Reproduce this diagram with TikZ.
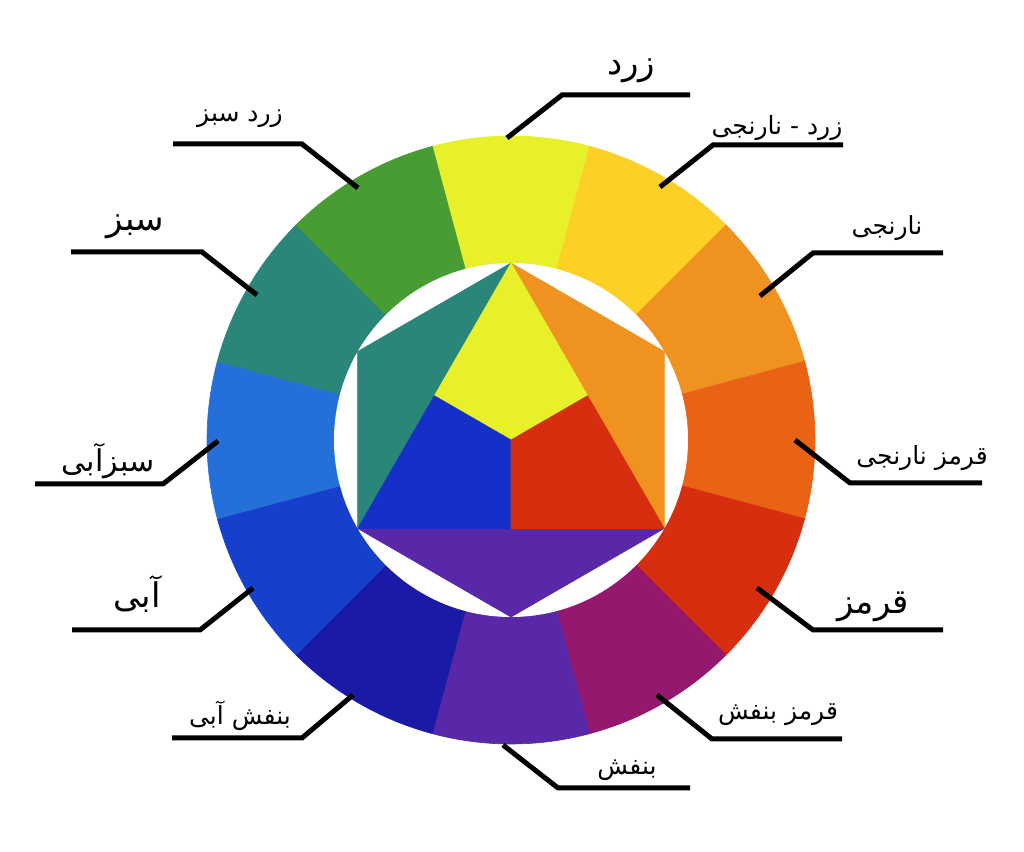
\documentclass[tikz,border=0pt]{standalone}
\usepackage{fontspec}
\newfontfamily\farsi[Script=Arabic]{DejaVu Sans}
\TeXXeTstate=1

\begin{document}
\begin{tikzpicture}[
  x=0.5pt, y=0.5pt,
  % --- shape styles ---
  wedge/.style={fill=#1, draw=#1, line width=0.3pt},
  tri/.style={fill=#1, draw=#1, line width=0.3pt, line join=round},
  lead/.style={line width=2.5pt},
  % --- label styles ---
  lblS/.style={font=\farsi\fontsize{12.5}{14}\selectfont, inner sep=0pt},
  lblM/.style={font=\farsi\fontsize{15}{17}\selectfont, inner sep=0pt},
  lblB/.style={font=\farsi\fontsize{17}{19}\selectfont, inner sep=0pt},
]
  % --- Hue colours ---
  \definecolor{cY}{RGB}{232,240,42}
  \definecolor{cYO}{RGB}{252,208,36}
  \definecolor{cO}{RGB}{240,146,32}
  \definecolor{cRO}{RGB}{234,98,20}
  \definecolor{cR}{RGB}{214,46,14}
  \definecolor{cRV}{RGB}{148,24,110}
  \definecolor{cV}{RGB}{88,40,168}
  \definecolor{cBV}{RGB}{26,26,166}
  \definecolor{cB}{RGB}{22,64,204}
  \definecolor{cBG}{RGB}{36,112,216}
  \definecolor{cG}{RGB}{42,134,120}
  \definecolor{cYG}{RGB}{72,156,52}
  \definecolor{cBin}{RGB}{20,48,200}

  \useasboundingbox (0,0) rectangle (1024,852);
  \fill[white] (0,0) rectangle (1024,852);

  \def\ro{304}  % outer radius of the ring
  \def\ri{177}  % inner radius (white disc)

  \begin{scope}[shift={(511,412)}]
    % --- Outer ring, clockwise from the top ---
    \fill[wedge=cY]  (0,0) -- (75:\ro)   arc[start angle=75,   end angle=105,  radius=\ro] -- cycle;
    \fill[wedge=cYO] (0,0) -- (45:\ro)   arc[start angle=45,   end angle=75,   radius=\ro] -- cycle;
    \fill[wedge=cO]  (0,0) -- (15:\ro)   arc[start angle=15,   end angle=45,   radius=\ro] -- cycle;
    \fill[wedge=cRO] (0,0) -- (-15:\ro)  arc[start angle=-15,  end angle=15,   radius=\ro] -- cycle;
    \fill[wedge=cR]  (0,0) -- (-45:\ro)  arc[start angle=-45,  end angle=-15,  radius=\ro] -- cycle;
    \fill[wedge=cRV] (0,0) -- (-75:\ro)  arc[start angle=-75,  end angle=-45,  radius=\ro] -- cycle;
    \fill[wedge=cV]  (0,0) -- (-105:\ro) arc[start angle=-105, end angle=-75,  radius=\ro] -- cycle;
    \fill[wedge=cBV] (0,0) -- (-135:\ro) arc[start angle=-135, end angle=-105, radius=\ro] -- cycle;
    \fill[wedge=cB]  (0,0) -- (-165:\ro) arc[start angle=-165, end angle=-135, radius=\ro] -- cycle;
    \fill[wedge=cBG] (0,0) -- (165:\ro)  arc[start angle=165,  end angle=195,  radius=\ro] -- cycle;
    \fill[wedge=cG]  (0,0) -- (135:\ro)  arc[start angle=135,  end angle=165,  radius=\ro] -- cycle;
    \fill[wedge=cYG] (0,0) -- (105:\ro)  arc[start angle=105,  end angle=135,  radius=\ro] -- cycle;
    \fill[white] (0,0) circle[radius=\ri];

    % --- Hexagon corners and edge midpoints ---
    \coordinate (o)    at (0,0);
    \coordinate (h90)  at (90:\ri);
    \coordinate (h30)  at (30:\ri);
    \coordinate (h330) at (-30:\ri);
    \coordinate (h270) at (-90:\ri);
    \coordinate (h210) at (-150:\ri);
    \coordinate (h150) at (150:\ri);
    \coordinate (m150) at (150:\ri/2);
    \coordinate (m30)  at (30:\ri/2);
    \coordinate (m270) at (-90:\ri/2);

    % --- Secondary triangles ---
    \fill[tri=cG]  (h90) -- (h150) -- (h210) -- cycle;
    \fill[tri=cO]  (h90) -- (h30) -- (h330) -- cycle;
    \fill[tri=cV]  (h210) -- (h270) -- (h330) -- cycle;
    % --- Primary triangle ---
    \fill[tri=cY]   (h90) -- (m150) -- (o) -- (m30) -- cycle;
    \fill[tri=cBin] (m150) -- (h210) -- (m270) -- (o) -- cycle;
    \fill[tri=cR]   (m30) -- (o) -- (m270) -- (h330) -- cycle;
  \end{scope}

  % --- Leader lines (ring point, bend, end) ---
  \coordinate (pY)  at (507,714); \coordinate (kY)  at (562,757); \coordinate (eY)  at (690,757);
  \coordinate (pYO) at (660,665); \coordinate (kYO) at (713,707); \coordinate (eYO) at (843,707);
  \coordinate (pO)  at (760,556); \coordinate (kO)  at (813,599); \coordinate (eO)  at (943,599);
  \coordinate (pRO) at (795,412); \coordinate (kRO) at (850,369); \coordinate (eRO) at (982,369);
  \coordinate (pR)  at (757,264); \coordinate (kR)  at (813,222); \coordinate (eR)  at (943,222);
  \coordinate (pRV) at (657,157); \coordinate (kRV) at (712,113); \coordinate (eRV) at (842,113);
  \coordinate (pV)  at (503,107); \coordinate (kV)  at (558,64);  \coordinate (eV)  at (690,64);
  \coordinate (pBV) at (353,157); \coordinate (kBV) at (302,114); \coordinate (eBV) at (172,114);
  \coordinate (pB)  at (253,264); \coordinate (kB)  at (200,222); \coordinate (eB)  at (72,222);
  \coordinate (pBG) at (218,411); \coordinate (kBG) at (163,368); \coordinate (eBG) at (35,368);
  \coordinate (pG)  at (257,557); \coordinate (kG)  at (202,600); \coordinate (eG)  at (71,600);
  \coordinate (pYG) at (358,664); \coordinate (kYG) at (302,708); \coordinate (eYG) at (173,708);

  \draw[lead] (pY)  -- (kY)  -- (eY);
  \draw[lead] (pYO) -- (kYO) -- (eYO);
  \draw[lead] (pO)  -- (kO)  -- (eO);
  \draw[lead] (pRO) -- (kRO) -- (eRO);
  \draw[lead] (pR)  -- (kR)  -- (eR);
  \draw[lead] (pRV) -- (kRV) -- (eRV);
  \draw[lead] (pV)  -- (kV)  -- (eV);
  \draw[lead] (pBV) -- (kBV) -- (eBV);
  \draw[lead] (pB)  -- (kB)  -- (eB);
  \draw[lead] (pBG) -- (kBG) -- (eBG);
  \draw[lead] (pG)  -- (kG)  -- (eG);
  \draw[lead] (pYG) -- (kYG) -- (eYG);

  % --- Hue names ---
  \node[lblB] (tY)  at (631,781) {\beginR زرد\endR};
  \node[lblS] (tYO) at (777,724) {\beginR زرد - نارنجی\endR};
  \node[lblS] (tO)  at (887,624) {\beginR نارنجی\endR};
  \node[lblS] (tRO) at (922,394) {\beginR قرمز نارنجی\endR};
  \node[lblB] (tR)  at (873,245) {\beginR قرمز\endR};
  \node[lblS] (tRV) at (778,137) {\beginR قرمز بنفش\endR};
  \node[lblS] (tV)  at (627,82)  {\beginR بنفش\endR};
  \node[lblS] (tBV) at (240,136) {\beginR بنفش آبی\endR};
  \node[lblB] (tB)  at (137,258) {\beginR آبی\endR};
  \node[lblM] (tBG) at (108,391) {\beginR سبزآبی\endR};
  \node[lblB] (tG)  at (135,625) {\beginR سبز\endR};
  \node[lblS] (tYG) at (240,733) {\beginR زرد سبز\endR};
\end{tikzpicture}
\end{document}
